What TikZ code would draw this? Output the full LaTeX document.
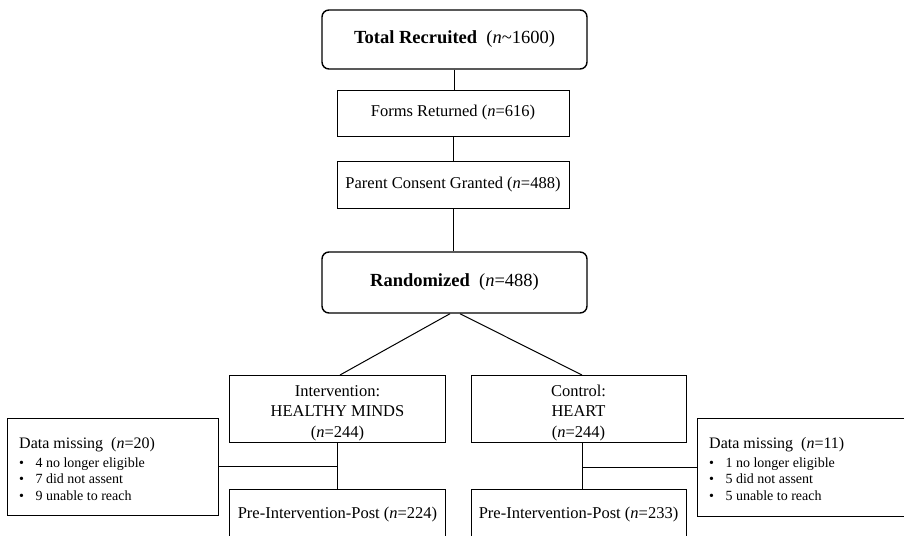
\documentclass[tikz,border=0pt]{standalone}
\usepackage{fontspec}
\setmainfont{Liberation Serif}
\usetikzlibrary{calc}
\begin{document}
\begin{tikzpicture}[x=1pt,y=-1pt,
  box/.style={draw, line width=1pt, inner sep=0pt, align=center, font=\fontsize{16.5}{20}\selectfont},
  rbox/.style={box, rounded corners=7pt, line width=1.4pt, font=\fontsize{18.5}{22}\selectfont},
  armtext/.style={inner sep=0pt, align=center, font=\fontsize{16.5}{20.3}\selectfont},
  txt/.style={inner sep=0pt, align=left, anchor=north west, font=\fontsize{14}{16.5}\selectfont},
  conn/.style={line width=1pt}]
\useasboundingbox (0,0) rectangle (904,535);
\clip (0,0) rectangle (904,535);
\fill[white] (0,0) rectangle (904,535);
% main column
\node[rbox, minimum width=265pt, minimum height=59pt] (tot) at (454.5,39.5)
  {\textbf{Total Recruited}\enspace(\textit{n}\char"007E 1600)};
\node[box, minimum width=232pt, minimum height=46pt] (forms) at (453,113)
  {Forms Returned (\textit{n}=616)};
\node[box, minimum width=232pt, minimum height=47pt] (cons) at (453,184.5)
  {Parent Consent Granted (\textit{n}=488)};
\node[rbox, minimum width=265pt, minimum height=61pt] (rand) at (454.5,282.5)
  {\textbf{Randomized}\enspace(\textit{n}=488)};
% arms
\node[box, minimum width=216pt, minimum height=67pt] (int) at (337.5,409) {};
\node[armtext] (intT) at ($(int.center)+(0,4)$)
  {Intervention:\\HEALTHY MINDS\\(\textit{n}=244)};
\node[box, minimum width=215pt, minimum height=67pt] (ctl) at (578.5,409) {};
\node[armtext] (ctlT) at ($(ctl.center)+(0,4)$)
  {Control:\\HEART\\(\textit{n}=244)};
% post boxes
\node[box, minimum width=216pt, minimum height=52pt] (preL) at (337.5,515)
  {Pre-Intervention-Post (\textit{n}=224)};
\node[box, minimum width=215pt, minimum height=52pt] (preR) at (578.5,515)
  {Pre-Intervention-Post (\textit{n}=233)};
% data missing boxes
\node[draw, line width=1pt, minimum width=211pt, minimum height=97pt, inner sep=0pt] (dmL) at (112.5,466.5) {};
\node[draw, line width=1pt, minimum width=208pt, minimum height=98pt, inner sep=0pt] (dmR) at (801,467) {};
\node[txt] (dmLt) at (19,437.5)
  {{\fontsize{16}{19}\selectfont Data missing\enspace(\textit{n}=20)}\\[2pt]
   \textbullet\hspace{11.5pt}4 no longer eligible\\
   \textbullet\hspace{11.5pt}7 did not assent\\
   \textbullet\hspace{11.5pt}9 unable to reach};
\node[txt] (dmRt) at (709,437.5)
  {{\fontsize{16}{19}\selectfont Data missing\enspace(\textit{n}=11)}\\[2pt]
   \textbullet\hspace{11.5pt}1 no longer eligible\\
   \textbullet\hspace{11.5pt}5 did not assent\\
   \textbullet\hspace{11.5pt}5 unable to reach};
% connectors
\draw[conn] (tot.south) -- (tot.south |- forms.north);
\draw[conn] (forms.south) -- (cons.north);
\draw[conn] (cons.south) -- (cons.south |- rand.north);
\draw[conn] ($(rand.south)+(-4.5,0)$) -- ($(int.north)+(2.5,0)$);
\draw[conn] ($(rand.south)+(5.5,0)$) -- ($(ctl.north)+(3.5,0)$);
\draw[conn] (int.south) -- (preL.north);
\draw[conn] (dmL.east) -- (dmL.east -| int.south);
\coordinate (cv) at ($(ctl.south)+(3.5,0)$);
\draw[conn] (cv) -- (cv |- preR.north);
\draw[conn] (cv |- dmR.west) -- (dmR.west);
\end{tikzpicture}
\end{document}
